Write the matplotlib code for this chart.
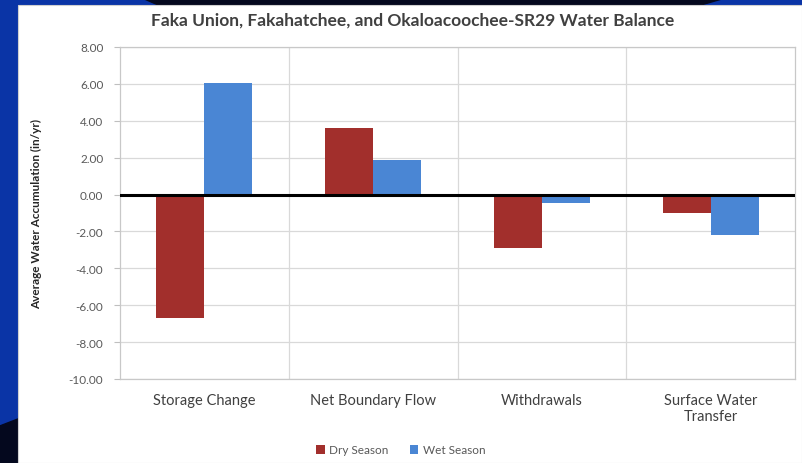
import numpy as np
import matplotlib
matplotlib.use("Agg")
from matplotlib import pyplot as plt
from matplotlib.patches import Polygon, Rectangle

categories = ["Storage Change", "Net Boundary Flow", "Withdrawals", "Surface Water\nTransfer"]
dry_season = [-6.7, 3.6, -2.9, -1.0]
wet_season = [6.05, 1.85, -0.45, -2.2]
y_ticks = np.arange(-10, 9, 2)

plt.rcParams['font.family'] = ['Lato', 'DejaVu Sans']

fig = plt.figure(figsize=(8.02, 4.64), dpi=100)
fig.patch.set_facecolor("#0a34a6")

# slide background pieces
fig.patches.append(Polygon([[0.18, 1], [0.90, 1], [0.87, 0.985], [0.20, 0.985]],
                           closed=True, transform=fig.transFigure, color="#04081e", zorder=0))
fig.patches.append(Polygon([[0, 0], [0.03, 0], [0.03, 0.10], [0, 0.08]],
                           closed=True, transform=fig.transFigure, color="#04081e", zorder=0))
# white chart panel
fig.patches.append(Rectangle((18/802, 0), 1 - 18/802, 1 - 6/464,
                             transform=fig.transFigure, facecolor="white",
                             edgecolor="#d0d0d0", lw=0.8, zorder=1))

ax = fig.add_axes([120/802, 1 - 380/464, 675/802, (380 - 48)/464])
ax.set_zorder(2)
x = np.arange(len(categories))
w = 0.285
ax.bar(x - w/2, dry_season, w, color="#a22f2c", label="Dry Season", zorder=3)
ax.bar(x + w/2, wet_season, w, color="#4a86d4", label="Wet Season", zorder=3)
ax.axhline(0, color="black", lw=2.2, zorder=4)

ax.set_xlim(-0.5, 3.5)
ax.set_ylim(-10, 8)
ax.set_yticks(y_ticks)
ax.set_yticklabels([f"{v:.2f}" for v in y_ticks], fontsize=8.5, color="#595959")
ax.set_xticks(x)
ax.set_xticklabels(categories, fontsize=10.5, color="#404040", linespacing=1.2)
ax.tick_params(axis="x", length=0, pad=10)
ax.tick_params(axis="y", length=4, color="#bfbfbf", pad=8)

for v in y_ticks:
    ax.axhline(v, color="#d9d9d9", lw=0.9, zorder=1)
for xv in [0.5, 1.5, 2.5]:
    ax.axvline(xv, color="#d9d9d9", lw=0.9, zorder=1)
for s in ax.spines.values():
    s.set_color("#c8c8c8")
    s.set_linewidth(0.9)

ax.set_ylabel("Average Water Accumulation (in/yr)", fontsize=8.5, fontweight="bold",
              color="#262626")
ax.yaxis.set_label_coords(-0.115, 0.5)

fig.text(0.514, 1 - 21/464, "Faka Union, Fakahatchee, and Okaloacoochee-SR29 Water Balance",
         ha="center", va="center", fontsize=12.5, fontweight="bold", color="#404040")

ax.legend(loc="center", bbox_to_anchor=(0.5, 1 - 451/464), bbox_transform=fig.transFigure,
          ncol=2, frameon=False, fontsize=8.5, handlelength=0.7, handleheight=0.7,
          columnspacing=1.8, handletextpad=0.4, labelcolor="#595959")

fig.savefig("out.png", dpi=100, facecolor=fig.get_facecolor())
